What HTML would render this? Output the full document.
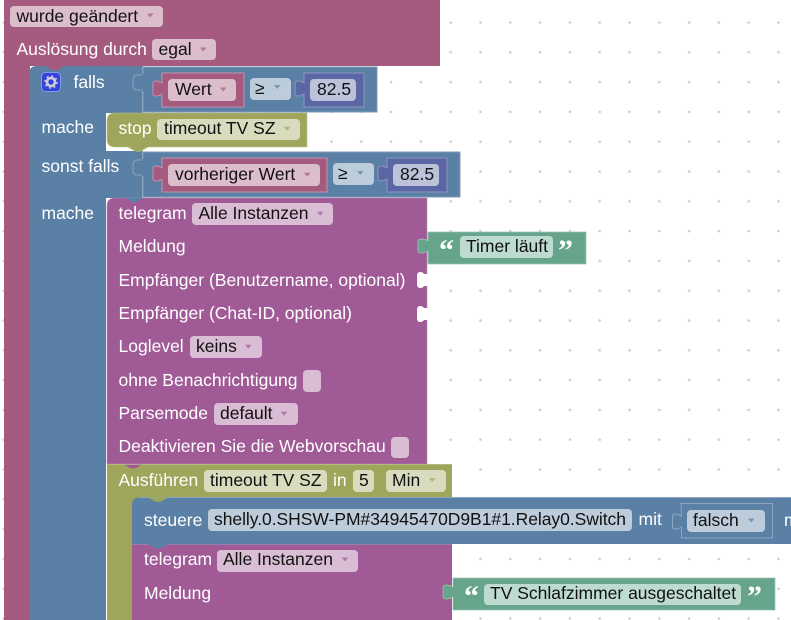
<!DOCTYPE html>
<html><head><meta charset="utf-8">
<style>
html,body{margin:0;padding:0;background:#fff;width:791px;height:620px;overflow:hidden}
svg{display:block}
text{font-family:"Liberation Sans",sans-serif;font-size:17.5px}
.w{fill:#fff}
.b{fill:#111}
.q{font-family:"Liberation Serif",serif;font-weight:bold;font-size:30px;fill:#fff}
.ar{fill-opacity:.7}
</style></head><body>
<svg width="791" height="620" viewBox="0 0 791 620" xmlns="http://www.w3.org/2000/svg">
<defs>
<pattern id="g" x="3.2" y="22.5" width="29.8" height="29.8" patternUnits="userSpaceOnUse"><circle cx="0.5" cy="0" r="1.3" fill="#ccc"/><circle cx="30.3" cy="0" r="1.3" fill="#ccc"/><circle cx="0.5" cy="29.8" r="1.3" fill="#ccc"/><circle cx="30.3" cy="29.8" r="1.3" fill="#ccc"/></pattern>
</defs>
<rect width="791" height="620" fill="url(#g)"/>

<!-- hat -->
<path d="M4,0H440V66H30V620H4Z" fill="#a55b80"/>
<rect x="10" y="6" width="153" height="21" rx="4" fill="#dbbdcc"/>
<text x="16.500" y="22" class="b">wurde geändert</text>
<path d="M147,13.500h6.500l-3.250,4z" class="ar" fill="#a55b80"/>
<text x="16.500" y="55" class="w">Auslösung durch</text>
<rect x="152" y="39" width="64" height="21" rx="4" fill="#dbbdcc"/>
<text x="158.500" y="55" class="b">egal</text>
<path d="M200,47.500h6.500l-3.250,4z" class="ar" fill="#a55b80"/>

<!-- falls block -->
<path d="M37,66H143V113H106V151H143V198H106V620H29V74Q29,66 37,66Z" fill="#5b80a5"/>
<path d="M46,66l5,3.500q4,2 8,0l5,-3.500z" fill="#a55b80"/>
<path d="M143,67H377V112H143Z" fill="#5b80a5" stroke="#7d9ab8" stroke-width="1"/>
<path d="M143,152H460V197H143Z" fill="#5b80a5" stroke="#7d9ab8" stroke-width="1"/>
<path d="M142.500,67V113M142.500,151V198" stroke="#8ca6c0" fill="none"/>
<path d="M142,75h-5q-4,0 -4,5v5q0,5 4,5h5" fill="none" stroke="#8ca6c0" stroke-width="1"/>
<path d="M142,160h-5q-4,0 -4,5v5q0,5 4,5h5" fill="none" stroke="#8ca6c0" stroke-width="1"/>
<rect x="142" y="74" width="3" height="17" fill="#5b80a5"/>
<rect x="142" y="159" width="3" height="17" fill="#5b80a5"/>

<!-- gear -->
<rect x="41.500" y="72.500" width="19" height="19" rx="4" fill="#3344dd" stroke="#8899ee"/>
<circle cx="51" cy="82" r="4" fill="none" stroke="#ccd" stroke-width="2.600"/>
<circle cx="51" cy="82" r="6" fill="none" stroke="#ccd" stroke-width="1.600" stroke-dasharray="2 2.710"/>
<text x="73.500" y="88" class="w">falls</text>
<text x="41.500" y="133" class="w">mache</text>
<text x="41.500" y="172" class="w">sonst falls</text>
<text x="41.500" y="219" class="w">mache</text>

<!-- Wert -->
<path d="M162,73H244V107H162V94l-3,1.500q-6,1.500 -6,-2v-10q0,-3.500 6,-2l3,1.500Z" fill="#a55b80" stroke="#c58fa9" stroke-width="1"/>
<rect x="168" y="79" width="68" height="22" rx="4" fill="#dbbdcc"/>
<text x="175" y="95" class="b">Wert</text>
<path d="M220,87.500h6.500l-3.250,4z" class="ar" fill="#a55b80"/>
<rect x="250" y="78" width="41" height="22" rx="4" fill="#bdccdb"/>
<text x="255" y="94" class="b">≥</text>
<path d="M274,85h6.500l-3.250,4z" class="ar" fill="#5b80a5"/>
<path d="M304,73H364V107H304V94l-3,1.500q-6,1.500 -6,-2v-10q0,-3.500 6,-2l3,1.500Z" fill="#5b67a5" stroke="#8c95c0" stroke-width="1"/>
<rect x="310" y="79" width="46" height="22" rx="4" fill="#bdc2db"/>
<text x="317" y="95" class="b">82.5</text>

<!-- stop -->
<path d="M115,113H307V147H148l-6,3.500q-4,2 -8,0l-6,-3.500H115Q107,147 107,139V121Q107,113 115,113Z" fill="#9fa55b" stroke="#bcc08c" stroke-width="0.600"/>
<text x="118.500" y="134" class="w">stop</text>
<rect x="157" y="119" width="143" height="21" rx="4" fill="#d8dbbd"/>
<text x="164" y="134" class="b">timeout TV SZ</text>
<path d="M284,126.700h6.500l-3.250,4z" class="ar" fill="#9fa55b"/>

<!-- vorheriger Wert -->
<path d="M162,158H327V192H162V179l-3,1.500q-6,1.500 -6,-2v-10q0,-3.500 6,-2l3,1.500Z" fill="#a55b80" stroke="#c58fa9" stroke-width="1"/>
<rect x="168" y="164" width="152" height="22" rx="4" fill="#dbbdcc"/>
<text x="175" y="180" class="b">vorheriger Wert</text>
<path d="M304,172.700h6.500l-3.250,4z" class="ar" fill="#a55b80"/>
<rect x="333" y="163" width="41" height="22" rx="4" fill="#bdccdb"/>
<text x="338" y="179" class="b">≥</text>
<path d="M357,171h6.500l-3.250,4z" class="ar" fill="#5b80a5"/>
<path d="M387,158H447V192H387V179l-3,1.500q-6,1.500 -6,-2v-10q0,-3.500 6,-2l3,1.500Z" fill="#5b67a5" stroke="#8c95c0" stroke-width="1"/>
<rect x="393" y="164" width="46" height="22" rx="4" fill="#bdc2db"/>
<text x="400" y="180" class="b">82.5</text>

<!-- telegram -->
<path d="M115,198H427V464H107V206Q107,198 115,198Z" fill="#a05a96" stroke="#bd8db6" stroke-width="0.600"/>
<path d="M125,198l6,3.500q3,2 6,0l6,-3.500z" fill="#5b80a5"/>
<text x="118.500" y="219" class="w">telegram</text>
<rect x="192" y="203" width="141" height="22" rx="4" fill="#d9bdd5"/>
<text x="198.500" y="219" class="b">Alle Instanzen</text>
<path d="M317,211.700h6.500l-3.250,4z" class="ar" fill="#a05a96"/>
<text x="118.500" y="252" class="w">Meldung</text>
<text x="118.500" y="286" class="w">Empfänger (Benutzername, optional)</text>
<text x="118.500" y="319" class="w">Empfänger (Chat-ID, optional)</text>
<path d="M428,274H424Q423,272 420,272Q417,272 417,276V284Q417,288 420,288Q423,288 424,286H428Z" fill="#fff"/>
<path d="M428,308H424Q423,306 420,306Q417,306 417,310V318Q417,322 420,322Q423,322 424,320H428Z" fill="#fff"/>
<text x="118.500" y="352" class="w">Loglevel</text>
<rect x="190" y="336" width="72" height="22" rx="4" fill="#d9bdd5"/>
<text x="196" y="352" class="b">keins</text>
<path d="M245,344.700h6.500l-3.250,4z" class="ar" fill="#a05a96"/>
<text x="118.500" y="386" class="w">ohne Benachrichtigung</text>
<rect x="303" y="370" width="18" height="22" rx="4" fill="#d9bdd5"/>
<text x="118.500" y="419" class="w">Parsemode</text>
<rect x="214" y="403" width="84" height="22" rx="4" fill="#d9bdd5"/>
<text x="220" y="419" class="b">default</text>
<path d="M280.700,411.700h6.500l-3.250,4z" class="ar" fill="#a05a96"/>
<text x="118.500" y="452" class="w">Deaktivieren Sie die Webvorschau</text>
<rect x="391" y="437" width="18" height="21" rx="4" fill="#d9bdd5"/>

<!-- Timer läuft -->
<path d="M428,232H586V264H428V251l-3,1.500q-7,1.500 -7,-2v-9q0,-3.500 7,-2l3,1.500Z" fill="#66a58c" stroke="#9cc4b4" stroke-width="0.800"/>
<text x="439" y="260" class="q">“</text>
<rect x="460" y="236" width="93" height="22" rx="4" fill="#bddbd1"/>
<text x="466" y="252" class="b">Timer läuft</text>
<text x="558" y="260" class="q">”</text>

<!-- Ausfuehren -->
<path d="M107,464H452V498H141Q132,498 132,506V620H107Z" fill="#9fa55b"/>
<path d="M123,464l6,3.500q4,2 8,0l6,-3.500z" fill="#a05a96"/>
<path d="M107,464.500H452" stroke="#bcc08c" stroke-width="0.800"/>
<text x="118.500" y="486" class="w">Ausführen</text>
<rect x="204" y="470" width="123" height="22" rx="4" fill="#d8dbbd"/>
<text x="210" y="486" class="b">timeout TV SZ</text>
<text x="333" y="486" class="w">in</text>
<rect x="353" y="470" width="21" height="22" rx="4" fill="#d8dbbd"/>
<text x="359" y="486" class="b">5</text>
<rect x="386" y="470" width="60" height="22" rx="4" fill="#d8dbbd"/>
<text x="392" y="486" class="b">Min</text>
<path d="M429,478h6.500l-3.250,4z" class="ar" fill="#9fa55b"/>

<!-- steuere -->
<path d="M140,497.500H791V544H132V505Q132,497.500 140,497.500Z" fill="#5b80a5"/>
<path d="M140,497.500H791" stroke="#8ca6c0" stroke-width="1"/>
<path d="M148,497.500l6,3.500q4,2 8,0l6,-3.500z" fill="#9fa55b"/>
<text x="144" y="526" class="w">steuere</text>
<rect x="208" y="509" width="424" height="22" rx="4" fill="#bdccdb"/>
<text x="214" y="525" class="b" textLength="412">shelly.0.SHSW-PM#34945470D9B1#1.Relay0.Switch</text>
<text x="638.500" y="525" class="w">mit</text>
<path d="M681,503.500H772.500V538H681.500V527l-3,1.500q-6,1.500 -6,-2v-10q0,-3.500 6,-2l3,1.500Z" fill="#5b80a5" stroke="#8ca6c0" stroke-width="1"/>
<rect x="687" y="510" width="78" height="22" rx="4" fill="#bdccdb"/>
<text x="693" y="526" class="b">falsch</text>
<path d="M748,518.500h6.500l-3.250,4z" class="ar" fill="#5b80a5"/>
<text x="784" y="526" class="w">m</text>

<!-- telegram 2 -->
<path d="M132,544H452V620H132Z" fill="#a05a96"/>
<path d="M132,544.500H452" stroke="#8ca6c0" stroke-width="0.600"/>
<path d="M148,544l6,3.500q4,2 8,0l6,-3.500z" fill="#5b80a5"/>
<text x="144" y="565" class="w">telegram</text>
<rect x="217" y="550" width="141" height="22" rx="4" fill="#d9bdd5"/>
<text x="223" y="565" class="b">Alle Instanzen</text>
<path d="M341.700,557.500h6.500l-3.250,4z" class="ar" fill="#a05a96"/>
<text x="144" y="599" class="w">Meldung</text>
<path d="M453,578H775V610H453V597l-3,1.500q-7,1.500 -7,-2v-9q0,-3.500 7,-2l3,1.500Z" fill="#66a58c" stroke="#9cc4b4" stroke-width="0.800"/>
<text x="464" y="606" class="q">“</text>
<rect x="484" y="584" width="257" height="21" rx="4" fill="#bddbd1"/>
<text x="490" y="599" class="b">TV Schlafzimmer ausgeschaltet</text>
<text x="747" y="606" class="q">”</text>
</svg>
</body></html>
